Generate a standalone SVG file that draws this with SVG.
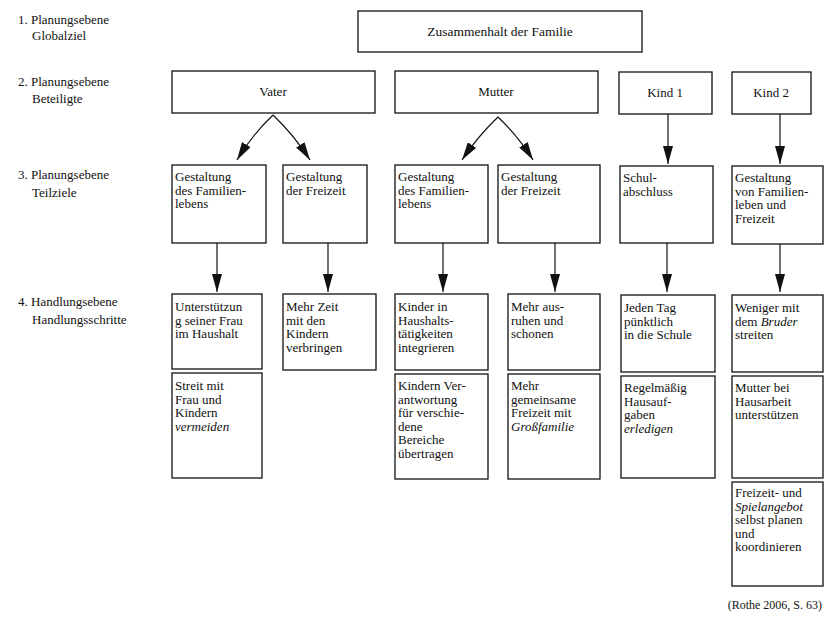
<svg xmlns="http://www.w3.org/2000/svg" width="825" height="621" viewBox="0 0 825 621" font-family="'Liberation Serif', 'DejaVu Serif', serif">
<style>
text{font-family:'Liberation Serif','DejaVu Serif',serif;font-size:13px;fill:#111}
.box{fill:#fff;stroke:#111;stroke-width:1.3}
.c{text-anchor:middle}
.i{font-style:italic}
.ln{fill:none;stroke:#111;stroke-width:1.2}
</style>
<defs>
<marker id="ah" viewBox="0 0 18 10" refX="18" refY="5" markerWidth="18" markerHeight="10" markerUnits="userSpaceOnUse" orient="auto">
<path d="M0,0 L18,5 L0,10 z" fill="#111"/>
</marker>
</defs>
<rect width="825" height="621" fill="#fff"/>

<g id="labels">
<text x="18" y="24">1. Planungsebene</text>
<text x="32" y="40">Globalziel</text>
<text x="18" y="86">2. Planungsebene</text>
<text x="32" y="103">Beteiligte</text>
<text x="18" y="179">3. Planungsebene</text>
<text x="32" y="197">Teilziele</text>
<text x="18" y="306">4. Handlungsebene</text>
<text x="32" y="324">Handlungsschritte</text>
</g>

<g id="connectors">
<path class="ln" d="M273,115 Q252,135 237,160" marker-end="url(#ah)"/>
<path class="ln" d="M273,115 Q294,135 310,160" marker-end="url(#ah)"/>
<path class="ln" d="M498,117 Q478,136 462,160" marker-end="url(#ah)"/>
<path class="ln" d="M498,117 Q518,136 533,160" marker-end="url(#ah)"/>
<line class="ln" x1="668" y1="114" x2="668" y2="164" marker-end="url(#ah)"/>
<line class="ln" x1="780" y1="114" x2="780" y2="164" marker-end="url(#ah)"/>
<line class="ln" x1="217" y1="243" x2="217" y2="292" marker-end="url(#ah)"/>
<line class="ln" x1="328" y1="243" x2="328" y2="292" marker-end="url(#ah)"/>
<line class="ln" x1="443" y1="243" x2="443" y2="292" marker-end="url(#ah)"/>
<line class="ln" x1="555" y1="243" x2="555" y2="292" marker-end="url(#ah)"/>
<line class="ln" x1="667" y1="243" x2="667" y2="292" marker-end="url(#ah)"/>
<line class="ln" x1="780" y1="243" x2="780" y2="292" marker-end="url(#ah)"/>
</g>

<g id="ziel">
<rect class="box" x="358" y="11" width="284" height="41"/>
<text class="c" x="500" y="36" style="font-size:13.5px">Zusammenhalt der Familie</text>
</g>

<g id="vater"><rect class="box" x="172" y="71" width="203" height="42"/><text class="c" x="273" y="96">Vater</text></g>
<g id="mutter"><rect class="box" x="395" y="71" width="203" height="42"/><text class="c" x="496" y="96">Mutter</text></g>
<g id="kind1"><rect class="box" x="619" y="72" width="93" height="42"/><text class="c" x="665" y="97">Kind 1</text></g>
<g id="kind2"><rect class="box" x="732" y="72" width="79" height="42"/><text class="c" x="771" y="97">Kind 2</text></g>

<g id="t-vater-familie"><rect class="box" x="172" y="165" width="94" height="78"/>
<text x="175" y="181">Gestaltung</text><text x="175" y="194.5">des Familien-</text><text x="175" y="208">lebens</text></g>
<g id="t-vater-freizeit"><rect class="box" x="283" y="165" width="84" height="78"/>
<text x="286" y="181">Gestaltung</text><text x="286" y="194.5">der Freizeit</text></g>
<g id="t-mutter-familie"><rect class="box" x="395" y="165" width="93" height="78"/>
<text x="398" y="181">Gestaltung</text><text x="398" y="194.5">des Familien-</text><text x="398" y="208">lebens</text></g>
<g id="t-mutter-freizeit"><rect class="box" x="498" y="165" width="102" height="78"/>
<text x="501" y="181">Gestaltung</text><text x="501" y="194.5">der Freizeit</text></g>
<g id="t-kind1"><rect class="box" x="620" y="166" width="93" height="77"/>
<text x="623" y="182">Schul-</text><text x="623" y="195.5">abschluss</text></g>
<g id="t-kind2"><rect class="box" x="732" y="166" width="91" height="78"/>
<text x="735" y="182">Gestaltung</text><text x="735" y="195.5">von Familien-</text><text x="735" y="209">leben und</text><text x="735" y="222.5">Freizeit</text></g>

<g id="h-vater-1"><rect class="box" x="172" y="294" width="90" height="75"/>
<text x="175" y="311">Unterstützun</text><text x="175" y="324.5">g seiner Frau</text><text x="175" y="338">im Haushalt</text></g>
<g id="h-vater-2"><rect class="box" x="172" y="373" width="90" height="105"/>
<text x="175" y="390">Streit mit</text><text x="175" y="403.5">Frau und</text><text x="175" y="417">Kindern</text><text class="i" x="175" y="430.5">vermeiden</text></g>
<g id="h-vater-3"><rect class="box" x="283" y="294" width="93" height="76"/>
<text x="286" y="311">Mehr Zeit</text><text x="286" y="324.5">mit den</text><text x="286" y="338">Kindern</text><text x="286" y="351.5">verbringen</text></g>

<g id="h-mutter-1"><rect class="box" x="395" y="294" width="93" height="76"/>
<text x="398" y="311">Kinder in</text><text x="398" y="324.5">Haushalts-</text><text x="398" y="338">tätigkeiten</text><text x="398" y="351.5">integrieren</text></g>
<g id="h-mutter-2"><rect class="box" x="395" y="374" width="93" height="105"/>
<text x="398" y="390">Kindern Ver-</text><text x="398" y="403.5">antwortung</text><text x="398" y="417">für verschie-</text><text x="398" y="430.5">dene</text><text x="398" y="444">Bereiche</text><text x="398" y="457.5">übertragen</text></g>
<g id="h-mutter-3"><rect class="box" x="508" y="294" width="92" height="76"/>
<text x="511" y="311">Mehr aus-</text><text x="511" y="324.5">ruhen und</text><text x="511" y="338">schonen</text></g>
<g id="h-mutter-4"><rect class="box" x="508" y="374" width="92" height="105"/>
<text x="511" y="390">Mehr</text><text x="511" y="403.5">gemeinsame</text><text x="511" y="417">Freizeit mit</text><text class="i" x="511" y="430.5">Großfamilie</text></g>

<g id="h-kind1-1"><rect class="box" x="621" y="295" width="94" height="77"/>
<text x="624" y="312">Jeden Tag</text><text x="624" y="325.5">pünktlich</text><text x="624" y="339">in die Schule</text></g>
<g id="h-kind1-2"><rect class="box" x="621" y="376" width="94" height="102"/>
<text x="624" y="392">Regelmäßig</text><text x="624" y="405.5">Hausauf-</text><text x="624" y="419">gaben</text><text class="i" x="624" y="432.5">erledigen</text></g>

<g id="h-kind2-1"><rect class="box" x="732" y="295" width="91" height="77"/>
<text x="735" y="312">Weniger mit</text><text x="735" y="325.5">dem <tspan class="i">Bruder</tspan></text><text x="735" y="339">streiten</text></g>
<g id="h-kind2-2"><rect class="box" x="732" y="376" width="91" height="102"/>
<text x="735" y="392">Mutter bei</text><text x="735" y="405.5">Hausarbeit</text><text x="735" y="419">unterstützen</text></g>
<g id="h-kind2-3"><rect class="box" x="732" y="482" width="91" height="104"/>
<text x="735" y="497">Freizeit- und</text><text class="i" x="735" y="510.5">Spielangebot</text><text x="735" y="524">selbst planen</text><text x="735" y="537.5">und</text><text x="735" y="551">koordinieren</text></g>

<text x="822" y="609" text-anchor="end" style="font-size:12px">(Rothe 2006, S. 63)</text>
</svg>
